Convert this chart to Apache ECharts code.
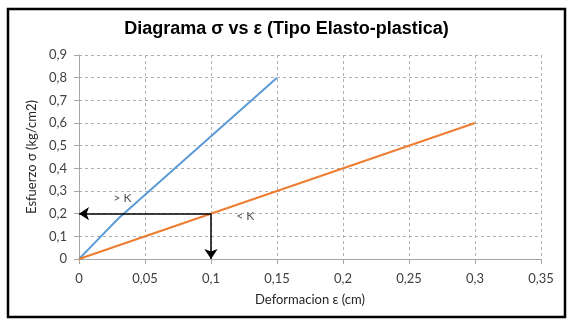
<!DOCTYPE html>
<html>
<head>
<meta charset="utf-8">
<script src="https://cdn.jsdelivr.net/npm/echarts@6/dist/echarts.min.js"></script>
<style>
  html, body { margin: 0; padding: 0; background: #fff; }
  #chart { width: 573px; height: 323px; }
</style>
</head>
<body>
<div id="chart"></div>
<script>
// datos
const elastico = [[0, 0], [0.01, 0.06], [0.03, 0.18], [0.15, 0.8]]
const plastico = [[0, 0], [0.3, 0.6]]
// flechas desde el punto (0.1, 0.2)
const puntoK = [0.1, 0.2]
const etiquetas = [
  { texto: '> K', pos: [0.033, 0.27] },
  { texto: '< K', pos: [0.126, 0.19] },
]
const xTicks = ['0', '0,05', '0,1', '0,15', '0,2', '0,25', '0,3', '0,35']
const yTicks = ['0', '0,1', '0,2', '0,3', '0,4', '0,5', '0,6', '0,7', '0,8', '0,9']

const chart = echarts.init(document.getElementById('chart'))
const fuente = 'Lato, "Open Sans", sans-serif'

const option = {
  animation: false,
  title: {
    text: 'Diagrama σ vs ε (Tipo Elasto-plastica)',
    left: 'center',
    top: 15,
    textStyle: {
      fontFamily: '"Liberation Sans", Arial, sans-serif',
      fontWeight: 'bold',
      fontSize: 18,
      color: '#000',
    },
  },
  graphic: [
    {
      type: 'rect',
      shape: { x: 8, y: 9, width: 557, height: 308 },
      style: { fill: 'none', stroke: '#000', lineWidth: 2.5 },
      z: 100,
    },
  ],
  grid: { left: 79, right: 32, top: 55, bottom: 64 },
  xAxis: {
    type: 'value',
    min: 0,
    max: 0.35,
    interval: 0.05,
    name: 'Deformacion ε (cm)',
    nameLocation: 'middle',
    nameGap: 34,
    nameTextStyle: { fontFamily: fuente, fontSize: 13, color: '#262626' },
    axisLine: { show: true, lineStyle: { color: '#a6a6a6' } },
    axisTick: { show: true, length: 5, lineStyle: { color: '#a6a6a6' } },
    axisLabel: {
      margin: 13,
      fontFamily: fuente,
      fontSize: 13,
      color: '#404040',
      formatter: (v) => xTicks[Math.round(v / 0.05)],
    },
    splitLine: { lineStyle: { color: '#b0b0b0', type: [3, 3] } },
  },
  yAxis: {
    type: 'value',
    min: 0,
    max: 0.9,
    interval: 0.1,
    name: 'Esfuerzo σ (kg/cm2)',
    nameLocation: 'middle',
    nameGap: 38,
    nameTextStyle: { fontFamily: fuente, fontSize: 13, color: '#262626' },
    axisLine: { show: true, lineStyle: { color: '#a6a6a6' } },
    axisTick: { show: true, length: 5, lineStyle: { color: '#a6a6a6' } },
    axisLabel: {
      margin: 12,
      fontFamily: fuente,
      fontSize: 13,
      color: '#404040',
      formatter: (v) => yTicks[Math.round(v / 0.1)],
    },
    splitLine: { lineStyle: { color: '#b0b0b0', type: [3, 3] } },
  },
  series: [
    {
      type: 'line',
      data: elastico,
      symbol: 'none',
      lineStyle: { color: '#5b9bd5', width: 2 },
    },
    {
      type: 'line',
      data: plastico,
      symbol: 'none',
      lineStyle: { color: '#ed7d31', width: 2 },
      markLine: {
        silent: true,
        symbol: ['none', 'arrow'],
        symbolSize: [10, 10],
        lineStyle: { color: '#000', width: 1.5, type: 'solid' },
        label: { show: false },
        data: [
          [{ coord: puntoK }, { coord: [0, puntoK[1]] }],
          [{ coord: puntoK }, { coord: [puntoK[0], 0] }],
        ],
      },
    },
    {
      type: 'scatter',
      symbolSize: 0,
      data: etiquetas.map((e) => ({ value: e.pos, name: e.texto })),
      label: {
        show: true,
        position: 'inside',
        formatter: '{b}',
        fontFamily: fuente,
        fontSize: 12,
        color: '#262626',
      },
    },
  ],
}
chart.setOption(option)
</script>
</body>
</html>
